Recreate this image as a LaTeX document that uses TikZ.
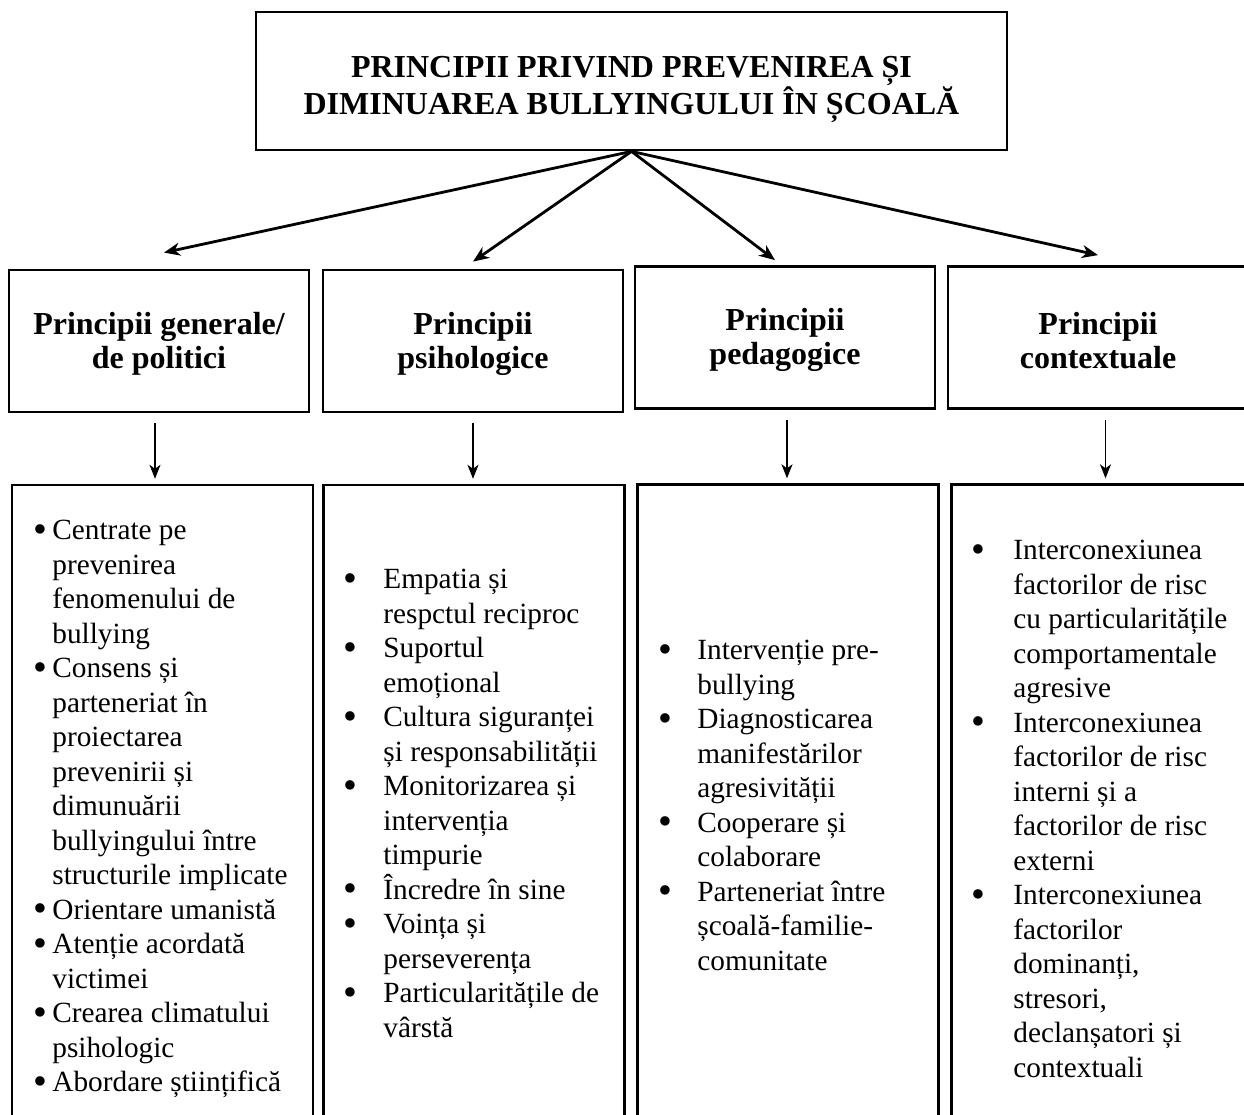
\documentclass[tikz,border=0pt]{standalone}
\usepackage{fontspec}
\usepackage{graphicx}
\setmainfont{Liberation Serif}
\usetikzlibrary{arrows.meta,positioning}
\tikzset{
    titlebox/.style={
        draw,
        line width=1.4pt,
        align=center,
        inner sep=0pt,
        minimum width=375.5pt,
        minimum height=69pt,
        font=\fontsize{16}{18.5}\selectfont\bfseries
    },
    headbox/.style={
        draw,
        line width=1.4pt,
        align=center,
        inner sep=0pt,
        minimum width=150pt,
        minimum height=71pt,
        font=\fontsize{16}{17}\selectfont\bfseries
    },
    listbox/.style={
        draw,
        line width=1.2pt,
        inner sep=0pt,
        minimum width=150.5pt,
        minimum height=322.5pt
    },
    listtext/.style={
        anchor=north west,
        align=left,
        inner sep=0pt,
        font=\fontsize{14.65}{17.25}\selectfont
    },
    flow/.style={-{Stealth[length=8pt,width=6.5pt,inset=2.5pt]}, line width=1.4pt},
    godown/.style={-{Stealth[length=7pt,width=5.5pt,inset=2pt]}, line width=0.75pt,
        shorten <=5pt, shorten >=2.5pt}
}
\newcommand{\bul}[1]{\llap{\raisebox{-0.08em}{\scalebox{1.35}{\textbullet}}\hspace{#1}}}
\newcommand{\tstrut}[1]{\rule{0pt}{#1}}

\begin{document}
\begin{tikzpicture}[x=0.5pt, y=-0.5pt, node distance=5.6pt]
    \useasboundingbox (0,0) rectangle (1244,1115);
    \node[titlebox] (title) at (631.5,81) {\tstrut{18.6pt}PRINCIPII PRIVIND PREVENIREA ȘI\\DIMINUAREA BULLYINGULUI ÎN ȘCOALĂ};
    \node[headbox] (gen) at (159,341) {\tstrut{14pt}Principii generale/\\de politici};
    \node[headbox, right=of gen] (psi) {\tstrut{14pt}Principii\\psihologice};
    \node[headbox, right=4.6pt of psi, yshift=1.75pt] (ped) {\tstrut{14pt}Principii\\pedagogice};
    \node[headbox, right=5.1pt of ped] (ctx) {\tstrut{14pt}Principii\\contextuale};
    \node[listbox, below=35.2pt of gen, xshift=1.75pt] (lgen) {};
    \node[listbox, below=35.2pt of psi, xshift=0.5pt] (lpsi) {};
    \node[listbox, below=36.7pt of ped, xshift=1.5pt] (lped) {};
    \node[listbox, below=36.7pt of ctx, xshift=2pt] (lctx) {};
    \node[listtext] (tgen) at (52,520) {\bul{2.5pt}Centrate pe\\prevenirea\\fenomenului de\\bullying\\
        \bul{2.5pt}Consens și\\parteneriat în\\proiectarea\\prevenirii și\\dimunuării\\bullyingului între\\structurile implicate\\
        \bul{2.5pt}Orientare umanistă\\\bul{2.5pt}Atenție acordată\\victimei\\
        \bul{2.5pt}Crearea climatului\\psihologic\\\bul{2.5pt}Abordare științifică};
    \node[listtext] (tpsi) at (383,569) {\bul{13pt}Empatia și\\respctul reciproc\\\bul{13pt}Suportul\\emoțional\\
        \bul{13pt}Cultura siguranței\\și responsabilității\\\bul{13pt}Monitorizarea și\\intervenția\\timpurie\\
        \bul{13pt}Încredre în sine\\\bul{13pt}Voința și\\perseverența\\\bul{13pt}Particularitățile de\\vârstă};
    \node[listtext] (tped) at (697,640) {\bul{12.5pt}Intervenție pre-\\bullying\\\bul{12.5pt}Diagnosticarea\\manifestărilor\\agresivității\\
        \bul{12.5pt}Cooperare și\\colaborare\\\bul{12.5pt}Parteneriat între\\școală-familie-\\comunitate};
    \node[listtext] (tctx) at (1013,540) {\bul{14pt}Interconexiunea\\factorilor de risc\\cu particularitățile\\comportamentale\\agresive\\
        \bul{14pt}Interconexiunea\\factorilor de risc\\interni și a\\factorilor de risc\\externi\\
        \bul{14pt}Interconexiunea\\factorilor\\dominanți,\\stresori,\\declanșatori și\\contextuali};
    \draw[flow] (title.south) -- ([xshift=2.5pt, yshift=8pt]gen.north);
    \draw[flow] (title.south) -- ([yshift=3.5pt]psi.north);
    \draw[flow] (title.south) -- ([xshift=-5pt, yshift=2.5pt]ped.north);
    \draw[flow] (title.south) -- ([yshift=5pt]ctx.north);
    \draw[godown] ([xshift=-2pt]gen.south) -- ([xshift=-2pt]gen.south |- lgen.north);
    \draw[godown] (psi.south) -- (psi.south |- lpsi.north);
    \draw[godown] ([xshift=1pt]ped.south) -- ([xshift=1pt]ped.south |- lped.north);
    \draw[godown] ([xshift=3.75pt]ctx.south) -- ([xshift=3.75pt]ctx.south |- lctx.north);
\end{tikzpicture}
\end{document}
